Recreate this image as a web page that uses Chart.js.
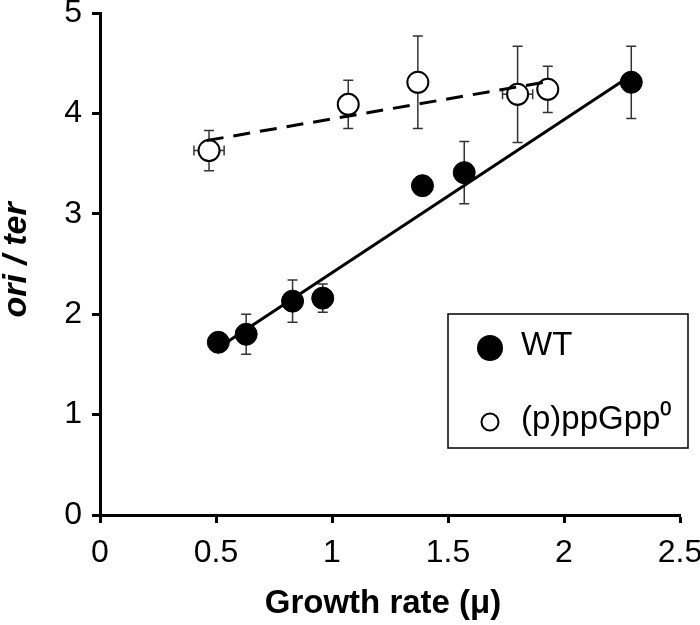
<!DOCTYPE html>
<html>
<head>
<meta charset="utf-8">
<script src="https://cdn.jsdelivr.net/npm/chart.js@4"></script>
<style>
   html, body { margin: 0; padding: 0; background: #fff; }
   #chartBox { width: 700px; height: 625px; }
</style>
</head>
<body>
<div id="chartBox"><canvas id="canvasOri" width="700" height="625"></canvas></div>
<script>

/* data */
const wtX    = [0.51, 0.63, 0.83, 0.96, 1.39, 1.57, 2.29];
const wtY    = [1.72, 1.80, 2.13, 2.16, 3.28, 3.41, 4.31];
const wtYErr = [0, 0.20, 0.21, 0.14, 0, 0.31, 0.36];

const ppX    = [0.47, 1.07, 1.37, 1.80, 1.93];
const ppY    = [3.63, 4.09, 4.31, 4.19, 4.24];
const ppYErr = [0.20, 0.24, 0.46, 0.48, 0.23];
const ppXErr = [0.065, 0, 0, 0.065, 0];

/* fitted lines (end points) */
const wtFitX = [0.52, 2.29];
const wtFitY = [1.68, 4.38];
const ppFitX = [0.46, 1.94];
const ppFitY = [3.73, 4.32];

const xTicks = ["0", "0.5", "1", "1.5", "2", "2.5"];
const yTicks = ["0", "1", "2", "3", "4", "5"];

const seriesNames = ["WT", "(p)ppGpp\u2070"];
const xTitle = "Growth rate (\u03bc)";
const yTitle = "ori / ter";

const FONT = "'Liberation Sans', Arial, sans-serif";

function pts(xs, ys) {
   return xs.map((x, i) => ({x: x, y: ys[i]}));
}

/* error bars, drawn under the markers */
const errorBars = {
   id: "errorBars",
   beforeDatasetsDraw(chart) {
      const ctx = chart.ctx, sx = chart.scales.x, sy = chart.scales.y;
      const cap = 5;
      ctx.save();
      ctx.strokeStyle = "#333";
      ctx.lineWidth = 1.5;
      const draw = (xs, ys, yerr, xerr) => {
         xs.forEach((x, i) => {
            let px = sx.getPixelForValue(x), py = sy.getPixelForValue(ys[i]);
            if (yerr[i] > 0) {
               let t = sy.getPixelForValue(ys[i] + yerr[i]),
                  b = sy.getPixelForValue(ys[i] - yerr[i]);
               ctx.beginPath();
               ctx.moveTo(px, t); ctx.lineTo(px, b);
               ctx.moveTo(px - cap, t); ctx.lineTo(px + cap, t);
               ctx.moveTo(px - cap, b); ctx.lineTo(px + cap, b);
               ctx.stroke();
            }
            if (xerr && xerr[i] > 0) {
               let l = sx.getPixelForValue(x - xerr[i]),
                  r = sx.getPixelForValue(x + xerr[i]);
               ctx.beginPath();
               ctx.moveTo(l, py); ctx.lineTo(r, py);
               ctx.moveTo(l, py - cap); ctx.lineTo(l, py + cap);
               ctx.moveTo(r, py - cap); ctx.lineTo(r, py + cap);
               ctx.stroke();
            }
         });
      };
      draw(wtX, wtY, wtYErr, null);
      draw(ppX, ppY, ppYErr, ppXErr);
      ctx.restore();
   }
};

/* axis titles + boxed legend inside the plot */
const decorations = {
   id: "decorations",
   afterDraw(chart) {
      const ctx = chart.ctx;
      ctx.save();
      ctx.fillStyle = "#000";
      ctx.textBaseline = "middle";

      /* x title */
      ctx.textAlign = "center";
      ctx.font = "bold 33px " + FONT;
      ctx.fillText(xTitle, 383, 604);

      /* y title */
      ctx.save();
      ctx.translate(17, 260);
      ctx.rotate(-Math.PI / 2);
      ctx.font = "italic bold 34px " + FONT;
      ctx.fillText(yTitle, 0, 0);
      ctx.restore();

      /* legend */
      let lx = 448, ly = 314, lw = 240, lh = 134;
      ctx.lineWidth = 1.5;
      ctx.strokeStyle = "#000";
      ctx.strokeRect(lx, ly, lw, lh);

      ctx.beginPath();
      ctx.arc(490, 348, 13, 0, 2 * Math.PI);
      ctx.fill();

      ctx.beginPath();
      ctx.arc(490, 422, 8.5, 0, 2 * Math.PI);
      ctx.fillStyle = "#fff";
      ctx.fill();
      ctx.lineWidth = 2;
      ctx.stroke();

      ctx.fillStyle = "#000";
      ctx.textAlign = "left";
      ctx.font = "33px " + FONT;
      ctx.fillText(seriesNames[0], 521, 346);
      ctx.fillText(seriesNames[1], 521, 420);
      ctx.restore();
   }
};

let ctx = document.getElementById("canvasOri");

let __scales = {
   x: {
      type: "linear",
      min: 0,
      max: 2.5,
      afterFit: (s) => { s.height = 110; s.paddingLeft = 0; s.paddingRight = 0; },
      ticks: {
         stepSize: 0.5,
         color: "#000",
         padding: 11,
         font: {family: FONT, size: 32},
         maxRotation: 0,
         callback: (v, i) => xTicks[i]
      },
      grid: {drawOnChartArea: false, drawTicks: true, tickLength: 8, tickWidth: 3, tickColor: "#000"},
      border: {display: true, color: "#000", width: 3}
   },
   y: {
      type: "linear",
      min: 0,
      max: 5,
      afterFit: (s) => { s.width = 100; s.paddingTop = 0; s.paddingBottom = 0; },
      ticks: {
         stepSize: 1,
         color: "#000",
         padding: 10,
         font: {family: FONT, size: 32},
         callback: (v, i) => yTicks[i]
      },
      grid: {drawOnChartArea: false, drawTicks: true, tickLength: 8, tickWidth: 3, tickColor: "#000"},
      border: {display: true, color: "#000", width: 3}
   }
};

let conf = {
   type: "scatter",
   data: {
      datasets: [
         {
            label: "fit " + seriesNames[1],
            data: pts(ppFitX, ppFitY),
            showLine: true,
            borderColor: "#000",
            borderWidth: 3,
            borderDash: [17, 10],
            pointRadius: 0,
            order: 0
         },
         {
            label: seriesNames[1],
            data: pts(ppX, ppY),
            pointRadius: 10.5,
            pointBackgroundColor: "#fff",
            pointBorderColor: "#000",
            pointBorderWidth: 2,
            order: 1
         },
         {
            label: seriesNames[0],
            data: pts(wtX, wtY),
            pointRadius: 11,
            pointBackgroundColor: "#000",
            pointBorderColor: "#000",
            pointBorderWidth: 1,
            order: 2
         },
         {
            label: "fit " + seriesNames[0],
            data: pts(wtFitX, wtFitY),
            showLine: true,
            borderColor: "#000",
            borderWidth: 3,
            pointRadius: 0,
            order: 3
         }
      ]
   },
   options: {
      responsive: false,
      animation: false,
      layout: {padding: {top: 13, right: 20, left: 0, bottom: 0}},
      scales: __scales,
      plugins: {
         legend: {display: false},
         tooltip: {enabled: false}
      }
   },
   plugins: [errorBars, decorations]
};

let chart = new Chart(ctx, conf);

</script>
</body>
</html>
